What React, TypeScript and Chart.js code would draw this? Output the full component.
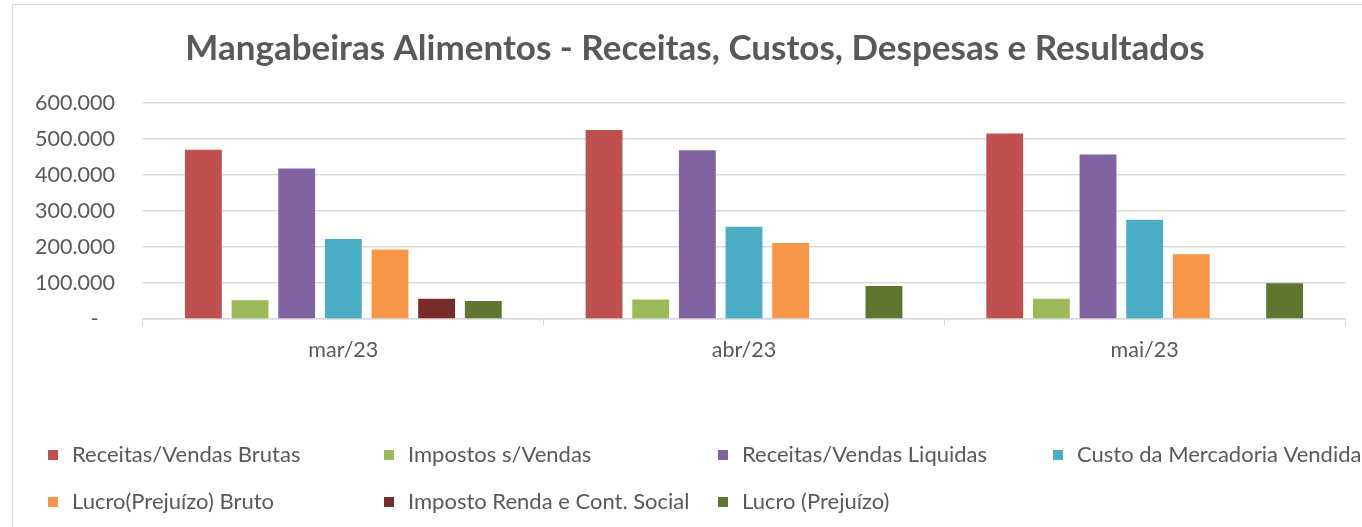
import React, { useEffect, useRef } from "react";
import { Chart, registerables } from "chart.js";

Chart.register(...registerables);

const categories = ["mar/23", "abr/23", "mai/23"];
const receitasBrutas = [470000, 525000, 515000];
const impostosVendas = [52000, 54000, 56000];
const receitasLiquidas = [418000, 469000, 457000];
const custoMercadoria = [222000, 256000, 276000];
const lucroBruto = [193000, 211000, 180000];
const impostoRenda = [56000, null, null];
const lucroLiquido = [50000, 92000, 99000];

const seriesLabels = [
  "Receitas/Vendas Brutas",
  "Impostos s/Vendas",
  "Receitas/Vendas Liquidas",
  "Custo da Mercadoria Vendida",
  "Lucro(Prejuízo) Bruto",
  "Imposto Renda e Cont. Social",
  "Lucro (Prejuízo)",
];
const seriesColors = ["#C0504D", "#9BBB59", "#8064A2", "#4BACC6", "#F79646", "#772C2A", "#5F7530"];
const seriesData = [receitasBrutas, impostosVendas, receitasLiquidas, custoMercadoria, lucroBruto, impostoRenda, lucroLiquido];

const yMin = 0;
const yMax = 600000;
const yStep = 100000;

const titleText = "Mangabeiras Alimentos - Receitas, Custos, Despesas e Resultados";
const FONT = "Lato, 'Open Sans', sans-serif";
const TEXT = "#595959";

function fmt(v: number): string {
  if (v === 0) return "-   ";
  return String(v).replace(/\B(?=(\d{3})+(?!\d))/g, ".");
}

const legendCols = [35, 371, 705, 1040];
const legendRows = [450, 497];

const titlePlugin = {
  id: "excelTitle",
  afterDraw(chart: any) {
    const ctx = chart.ctx;
    ctx.save();
    ctx.font = `bold 35px ${FONT}`;
    ctx.fillStyle = TEXT;
    ctx.textAlign = "center";
    ctx.textBaseline = "middle";
    ctx.fillText(titleText, chart.width / 2 - 1, 44);
    ctx.restore();
  },
};

const legendPlugin = {
  id: "excelLegend",
  afterDraw(chart: any) {
    const ctx = chart.ctx;
    ctx.save();
    ctx.font = `22px ${FONT}`;
    ctx.textBaseline = "middle";
    ctx.textAlign = "left";
    chart.data.datasets.forEach((ds: any, i: number) => {
      const x = legendCols[i % 4];
      const y = legendRows[Math.floor(i / 4)];
      ctx.fillStyle = ds.backgroundColor;
      ctx.fillRect(x, y - 5, 10, 10);
      ctx.fillStyle = TEXT;
      ctx.fillText(ds.label, x + 24, y);
    });
    ctx.restore();
  },
};

export default function App() {
  const ref = useRef<HTMLCanvasElement | null>(null);
  useEffect(() => {
    if (!ref.current) return;
    const chart = new Chart(ref.current, {
      type: "bar",
      data: {
        labels: categories,
        datasets: seriesLabels.map((label, i) => ({
          label,
          data: seriesData[i] as any,
          backgroundColor: seriesColors[i],
          categoryPercentage: 0.815,
          barPercentage: 0.79,
        })),
      },
      options: {
        animation: false,
        responsive: false,
        layout: { padding: { left: 0, right: 34, top: 98, bottom: 186 } },
        plugins: {
          legend: { display: false },
          tooltip: { enabled: false },
          title: { display: false },
        },
        scales: {
          x: {
            grid: { drawOnChartArea: false, drawTicks: true, tickLength: 7, color: "#d9d9d9", offset: true },
            border: { display: true, color: "#d9d9d9", width: 1.5 },
            ticks: { color: TEXT, font: { family: FONT, size: 21.5 }, padding: 11 },
            afterFit: (s: any) => { s.height = 60; },
          },
          y: {
            min: yMin,
            max: yMax,
            ticks: { stepSize: yStep, color: TEXT, font: { family: FONT, size: 21.5 }, padding: 28, callback: (v: any) => fmt(Number(v)) },
            grid: { color: "#d9d9d9", lineWidth: 1.5, drawTicks: false },
            border: { display: false },
            afterFit: (s: any) => { s.width = 130; },
          },
        },
      },
      plugins: [titlePlugin, legendPlugin],
    });
    return () => chart.destroy();
  }, []);

  return (
    <div style={{ position: "fixed", left: 0, top: 0, width: 1362, height: 527, overflow: "hidden", background: "#fff" }}>
      <div style={{ position: "absolute", left: 12, top: 4, width: 1366, height: 560, border: "1px solid #d9d9d9", background: "#fff" }}>
        <canvas ref={ref} width={1366} height={560} style={{ display: "block" }} />
      </div>
    </div>
  );
}
